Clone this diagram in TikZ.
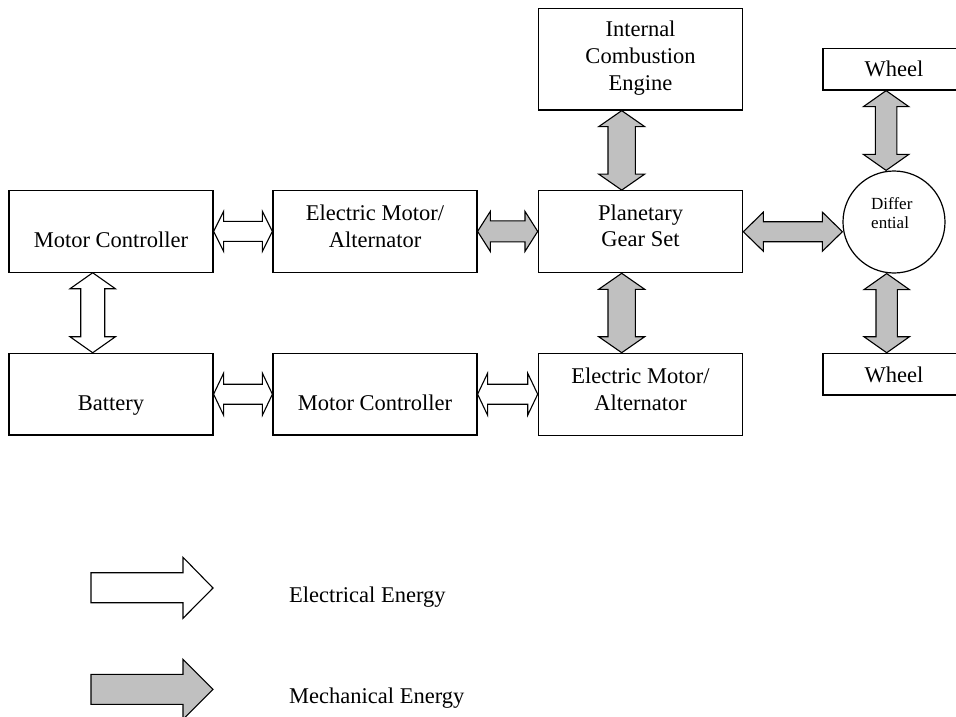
\documentclass[tikz,border=0pt]{standalone}
\usepackage{fontspec}
\setmainfont{Liberation Serif}
\usetikzlibrary{calc}
\definecolor{mech}{HTML}{C0C0C0}
\tikzset{
  box/.style={draw, line width=1.2pt, rectangle, inner sep=0pt},
  txt/.style={inner sep=0pt, align=center, font=\fontsize{22.5}{26.6}\selectfont},
  smalltxt/.style={inner sep=0pt, align=left, font=\fontsize{17}{19.7}\selectfont},
  elec/.style={draw, line width=1.1pt, line join=miter, fill=white},
  mechar/.style={draw, line width=1.1pt, line join=miter, fill=mech},
}
% horizontal double block arrow: style, left point, right point, shaft half, head half, head length
\newcommand\hdarrow[6]{%
  \path[#1] let \p1=#2, \p2=#3 in
    (\x1,\y1) -- (\x1+#6,\y1+#5) -- (\x1+#6,\y1+#4) -- (\x2-#6,\y1+#4) -- (\x2-#6,\y1+#5)
    -- (\x2,\y1) -- (\x2-#6,\y1-#5) -- (\x2-#6,\y1-#4) -- (\x1+#6,\y1-#4) -- (\x1+#6,\y1-#5) -- cycle;}
% vertical double block arrow: style, top point, bottom point, shaft half, head half, head length
\newcommand\vdarrow[6]{%
  \path[#1] let \p1=#2, \p2=#3 in
    (\x1,\y1) -- (\x1+#5,\y1-#6) -- (\x1+#4,\y1-#6) -- (\x1+#4,\y2+#6) -- (\x1+#5,\y2+#6)
    -- (\x1,\y2) -- (\x1-#5,\y2+#6) -- (\x1-#4,\y2+#6) -- (\x1-#4,\y1-#6) -- (\x1-#5,\y1-#6) -- cycle;}
\begin{document}
\begin{tikzpicture}[x=1pt,y=-1pt]
\useasboundingbox (0,0) rectangle (956,717);
\clip (0,0) rectangle (956,717);
% boxes
\node[box, minimum width=204pt, minimum height=81.5pt] (mc1) at (111,231.4) {};
\node[box, minimum width=204pt, minimum height=81.5pt] (em1) at (375,231.4) {};
\node[box, minimum width=204.4pt, minimum height=82pt] (pgs) at (640.5,231.7) {};
\node[box, minimum width=204.4pt, minimum height=101.7pt] (ice) at (640.5,59.2) {};
\node[box, minimum width=204pt, minimum height=81.7pt] (bat) at (111,394.2) {};
\node[box, minimum width=204pt, minimum height=81.7pt] (mc2) at (375,394.2) {};
\node[box, minimum width=204.4pt, minimum height=82pt] (em2) at (640.5,394.3) {};
\node[box, minimum width=142pt, minimum height=41.7pt] (w1) at (894,69.2) {};
\node[box, minimum width=142pt, minimum height=41.7pt] (w2) at (894,374.2) {};
\node[box, circle, minimum size=102pt] (diff) at (894,222) {};
% texts
\node[txt, anchor=base] (mc1t) at (111,247.5) {Motor Controller};
\node[txt, anchor=base] (em1t) at (375,247.3) {Electric Motor/\\Alternator};
\node[txt, anchor=base] (pgst) at (640.5,246.7) {Planetary\\Gear Set};
\node[txt, anchor=base] (icet) at (640.5,90) {Internal\\Combustion\\Engine};
\node[txt, anchor=base] (batt) at (111,410.5) {Battery};
\node[txt, anchor=base] (mc2t) at (375,410.3) {Motor Controller};
\node[txt, anchor=base] (em2t) at (640.5,410) {Electric Motor/\\Alternator};
\node[txt, anchor=base] (w1t) at (894,76.7) {Wheel};
\node[txt, anchor=base] (w2t) at (894,382.7) {Wheel};
\node[smalltxt, anchor=base west] (difft) at (871,228.7) {Differ\\ential};
% connectors
\hdarrow{elec}{(mc1.east)}{(em1.west)}{10pt}{20pt}{10pt}
\hdarrow{elec}{(bat.east)}{(mc2.west)}{10pt}{21pt}{10pt}
\hdarrow{elec}{(mc2.east)}{(em2.west)}{10pt}{21pt}{10pt}
\hdarrow{mechar}{(em1.east)}{(pgs.west)}{10.5pt}{20pt}{12.7pt}
\hdarrow{mechar}{(pgs.east)}{(diff.west)}{10pt}{19.5pt}{20pt}
\vdarrow{elec}{($(mc1.south west)+(84.3,0)$)}{(bat.north)}{12pt}{22.7pt}{16pt}
\vdarrow{mechar}{($(ice.south west)+(84,0)$)}{(pgs.north)}{13.7pt}{23pt}{16pt}
\vdarrow{mechar}{($(pgs.south west)+(84,0)$)}{(em2.north)}{13.7pt}{23pt}{16pt}
\vdarrow{mechar}{($(w1.south west)+(63.7,0)$)}{(diff.north)}{10.7pt}{22.7pt}{16pt}
\vdarrow{mechar}{($(diff.south)+(-7.3,0)$)}{(w2.north)}{10.7pt}{22.7pt}{16pt}
% legend
\draw[elec] (91,572.7) -- (183,572.7) -- (183,557.3) -- (213,588) -- (183,618.3) -- (183,602.7) -- (91,602.7) -- cycle;
\draw[mechar] (91,674.3) -- (183,674.3) -- (183,659.3) -- (213,689.3) -- (183,719.3) -- (183,704.3) -- (91,704.3) -- cycle;
\node[txt, anchor=base west] (leg1) at (289,602.3) {Electrical Energy};
\node[txt, anchor=base west] (leg2) at (289,703.3) {Mechanical Energy};
\end{tikzpicture}
\end{document}
